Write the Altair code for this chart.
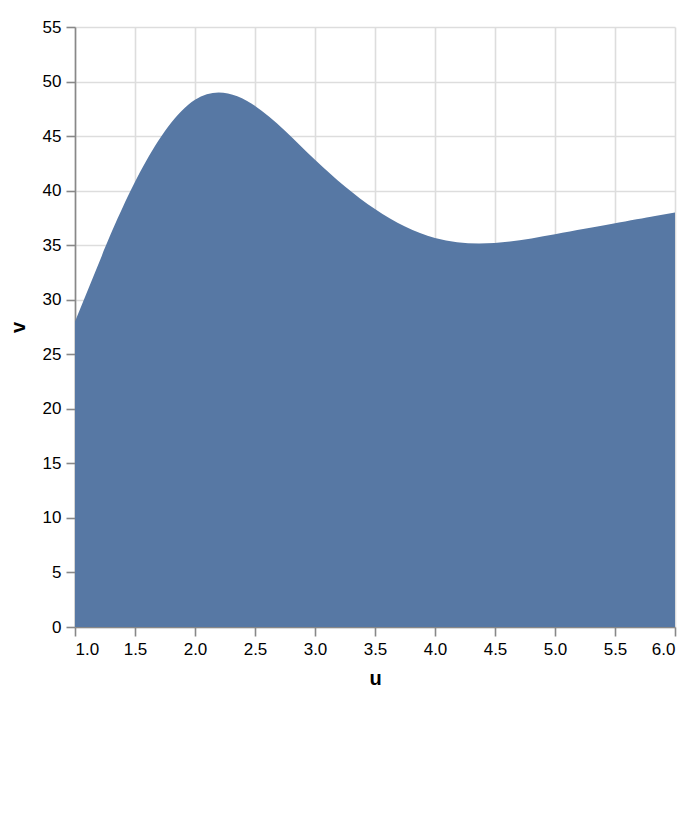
import altair as alt
import pandas as pd

u_values = [1, 2, 3, 4, 5, 6]
v_values = [28, 55, 42, 34, 36, 38]
interp_options = ["basis", "cardinal", "catmull-rom", "linear", "monotone",
                  "natural", "step", "step-after", "step-before"]

df = pd.DataFrame({"u": u_values, "v": v_values})

interp = alt.param(name="interpolate", value="basis",
                   bind=alt.binding_select(options=interp_options, name="interpolate",
                                           element="style"))
tension = alt.param(name="tension", value=0,
                    bind=alt.binding_range(min=0, max=1, step=0.05, name="tension",
                                           element="style"))

chart = alt.Chart(df).mark_area(
    interpolate={"expr": "interpolate"},
    tension={"expr": "tension"},
    color="#5778a4",
).encode(
    x=alt.X("u:Q", scale=alt.Scale(domain=[1, 6], zero=False, nice=False),
            axis=alt.Axis(tickCount=10, labelFlush=True, format=".1f", titlePadding=11)),
    y=alt.Y("v:Q", scale=alt.Scale(domain=[0, 55], nice=False),
            axis=alt.Axis(tickCount=11, labelFlush=False, titlePadding=14)),
).add_params(interp, tension).properties(
    width=600, height=600, padding={"left": 0, "top": 10, "right": 5, "bottom": 5}
).configure_axis(
    labelFontSize=17, titleFontSize=20, labelFont="Liberation Sans", titleFont="Liberation Sans",
    gridColor="#dddddd", gridWidth=1.6, domainColor="#888888", domainWidth=1.6,
    tickColor="#888888", tickWidth=1.6, tickSize=9, labelPadding=5,
    labelColor="#000000"
).configure_view(stroke=None)

chart.save("out.html", embed_options={"renderer": "svg", "actions": False})
